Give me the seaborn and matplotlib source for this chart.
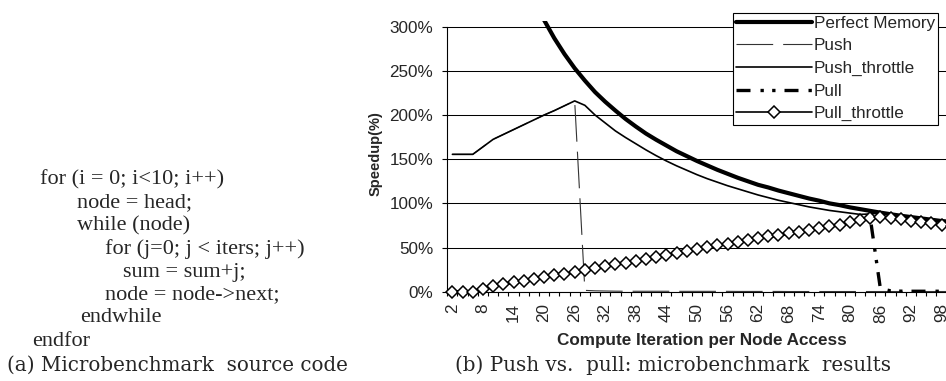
import numpy as np
import pandas as pd
import matplotlib
matplotlib.use("Agg")
import matplotlib.pyplot as plt
import seaborn as sns

nan = np.nan

# Compute iterations per node access (category axis)
iterations = list(range(2, 101, 2))
tick_labels = [str(v) for v in iterations[::3]]

# Speedup as a fraction (1.0 == 100%)
perfect_memory = [nan, nan, nan, nan, nan, nan, nan, nan,
                  3.31, 3.075, 2.87, 2.69, 2.53, 2.39, 2.26, 2.15, 2.05, 1.955,
                  1.87, 1.79, 1.72, 1.655, 1.59, 1.535, 1.48, 1.43, 1.38, 1.335,
                  1.29, 1.25, 1.21, 1.18, 1.145, 1.115, 1.085, 1.055, 1.03, 1.0,
                  0.98, 0.955, 0.935, 0.915, 0.895, 0.877, 0.86, 0.845, 0.83,
                  0.815, 0.80, 0.79]
push = [1.555, 1.555, 1.555, 1.64, 1.725, 1.78, 1.835, 1.89, 1.945, 2.0,
        2.05, 2.105, 2.16, 0.015, 0.01, 0.008, 0.006, 0.005, 0.005, 0.005,
        0.005, 0.005, 0.004, 0.004, 0.004, 0.004, 0.004, 0.004, 0.003, 0.003,
        0.003, 0.003, 0.003, 0.002, 0.002, 0.002, 0.002, 0.002, 0.002, 0.002,
        0.002, 0.002, 0.002, 0.002, 0.002, 0.002, 0.002, 0.002, 0.002, 0.002]
push_throttle = [1.555, 1.555, 1.555, 1.64, 1.725, 1.78, 1.835, 1.89, 1.945, 2.0,
                 2.05, 2.105, 2.16, 2.11, 2.00, 1.91, 1.82, 1.745, 1.675, 1.605,
                 1.54, 1.48, 1.425, 1.375, 1.325, 1.28, 1.24, 1.2, 1.165, 1.13,
                 1.095, 1.065, 1.035, 1.01, 0.985, 0.96, 0.94, 0.92, 0.905, 0.89,
                 0.875, 0.88, 0.89, 0.872, 0.855, 0.84, 0.825, 0.81, 0.795, 0.785]
pull_throttle = [0.0, 0.0, 0.0, 0.03, 0.06, 0.085, 0.105, 0.125, 0.145, 0.165,
                 0.185, 0.205, 0.225, 0.25, 0.27, 0.29, 0.31, 0.33, 0.35, 0.375,
                 0.395, 0.415, 0.44, 0.46, 0.485, 0.505, 0.525, 0.545, 0.565, 0.585,
                 0.605, 0.625, 0.64, 0.66, 0.68, 0.70, 0.72, 0.74, 0.76, 0.785,
                 0.81, 0.84, 0.85, 0.835, 0.82, 0.805, 0.79, 0.775, 0.755, 0.74]
pull = [0.0, 0.0, 0.0, 0.03, 0.06, 0.085, 0.105, 0.125, 0.145, 0.165,
        0.185, 0.205, 0.225, 0.25, 0.27, 0.29, 0.31, 0.33, 0.35, 0.375,
        0.395, 0.415, 0.44, 0.46, 0.485, 0.505, 0.525, 0.545, 0.565, 0.585,
        0.605, 0.625, 0.64, 0.66, 0.68, 0.70, 0.72, 0.74, 0.76, 0.785,
        0.81, 0.84, 0.035, 0.01, 0.006, 0.005, 0.005, 0.005, 0.005, 0.005]

y_ticks = [0.0, 0.5, 1.0, 1.5, 2.0, 2.5, 3.0]
y_tick_labels = ["0%", "50%", "100%", "150%", "200%", "250%", "300%"]

code_lines = ["for (i = 0; i<10; i++)",
              "node = head;",
              "while (node)",
              "for (j=0; j < iters; j++)",
              "sum = sum+j;",
              "node = node->next;",
              "endwhile",
              "endfor"]

df = pd.DataFrame({
    "pos": np.arange(len(iterations)),
    "Perfect Memory": perfect_memory,
    "Push": push,
    "Push_throttle": push_throttle,
    "Pull": pull,
    "Pull_throttle": pull_throttle,
})

sns.set_style("white")
plt.rcParams["font.family"] = ["Liberation Sans", "DejaVu Sans"]

W, H = 946, 381
fig = plt.figure(figsize=(W / 100, H / 100), dpi=100)
ax_left, ax_right = 447.3, 956.8
y0_px, ytop_px = 291.7, 21.4
ax = fig.add_axes([ax_left / W, (H - y0_px) / H,
                   (ax_right - ax_left) / W, (y0_px - ytop_px) / H])

FS = 12.3

# series
sns.lineplot(data=df, x="pos", y="Perfect Memory", ax=ax, color="black",
             lw=3.0, label="Perfect Memory", zorder=3, errorbar=None)
sns.lineplot(data=df, x="pos", y="Push", ax=ax, color="#333333",
             lw=0.8, label="Push", zorder=4, errorbar=None)
ax.lines[-1].set_dashes((33, 9))
sns.lineplot(data=df, x="pos", y="Push_throttle", ax=ax, color="black",
             lw=1.2, label="Push_throttle", zorder=5, errorbar=None)
sns.lineplot(data=df, x="pos", y="Pull", ax=ax, color="black",
             lw=2.4, label="Pull", zorder=6, errorbar=None)
ax.lines[-1].set_dashes((4.2, 3.0, 1.0, 2.5, 1.0, 2.7))
sns.lineplot(data=df, x="pos", y="Pull_throttle", ax=ax, color="black",
             lw=1.2, label="Pull_throttle", zorder=7, errorbar=None,
             marker="D", markersize=6.5)
pt = ax.lines[-1]
pt.set_markerfacecolor("white")
pt.set_markeredgecolor("black")
pt.set_markeredgewidth(1.1)

for ln in ax.lines[1:]:
    ln.set_clip_on(False)

# axes styling
ax.set_xlim(-0.5, len(iterations) - 0.5)
ax.set_ylim(0, 3.06)
ax.set_yticks(y_ticks)
ax.set_yticklabels(y_tick_labels, fontsize=FS)
ax.set_xticks(np.arange(0, len(iterations), 3))
ax.set_xticklabels(tick_labels, rotation=90, fontsize=FS, va="top")
ax.set_xticks(np.arange(-0.5, len(iterations), 1), minor=True)
ax.tick_params(axis="x", which="major", length=0, pad=8.4)
ax.tick_params(axis="x", which="minor", length=3.0, width=0.8,
               color="black", direction="out", bottom=True)
ax.tick_params(axis="y", length=3.6, width=0.8, color="black",
               direction="out", pad=6.5, left=True)
ax.yaxis.grid(True, color="black", lw=0.75)
ax.xaxis.grid(False)
ax.set_axisbelow(True)
for side in ("top", "right"):
    ax.spines[side].set_visible(False)
ax.spines["left"].set_bounds(0, 3.0)
ax.spines["left"].set_color("black")
ax.spines["left"].set_linewidth(0.8)
ax.spines["bottom"].set_color("black")
ax.spines["bottom"].set_linewidth(0.8)
ax.set_xlabel("")
ax.set_ylabel("")

fig.text(((ax_left + 956.8) / 2) / W, 1 - 341.0 / H,
         "Compute Iteration per Node Access", ha="center", va="center",
         fontsize=FS, fontweight="bold")
fig.text(375.5 / W, 1 - 154.0 / H, "Speedup(%)", rotation=90,
         ha="center", va="center", fontsize=10.5, fontweight="bold")

leg = ax.legend(loc="upper right", bbox_to_anchor=(938.3 / W, 1 - 12.7 / H),
                bbox_transform=fig.transFigure, frameon=True, fancybox=False,
                edgecolor="black", framealpha=1, fontsize=FS,
                handlelength=4.4, handletextpad=0.13, borderpad=0.19,
                labelspacing=0.44, borderaxespad=0)
leg.get_frame().set_linewidth(0.8)
leg.set_zorder(10)

# source listing on the left
indents = [40, 77, 77, 105, 123, 105, 80, 32]
for i, (line, x) in enumerate(zip(code_lines, indents)):
    fig.text(x / W, 1 - (180 + 23 * i) / H, line, ha="left", va="center",
             fontsize=16, family=["Liberation Serif", "DejaVu Serif"])

fig.text(7 / W, 1 - 365 / H, "(a) Microbenchmark  source code",
         ha="left", va="center", fontsize=14.3, family=["DejaVu Serif"])
fig.text(455 / W, 1 - 365 / H, "(b) Push vs.  pull: microbenchmark  results",
         ha="left", va="center", fontsize=14.3, family=["DejaVu Serif"])

fig.savefig("out.png", dpi=100)
